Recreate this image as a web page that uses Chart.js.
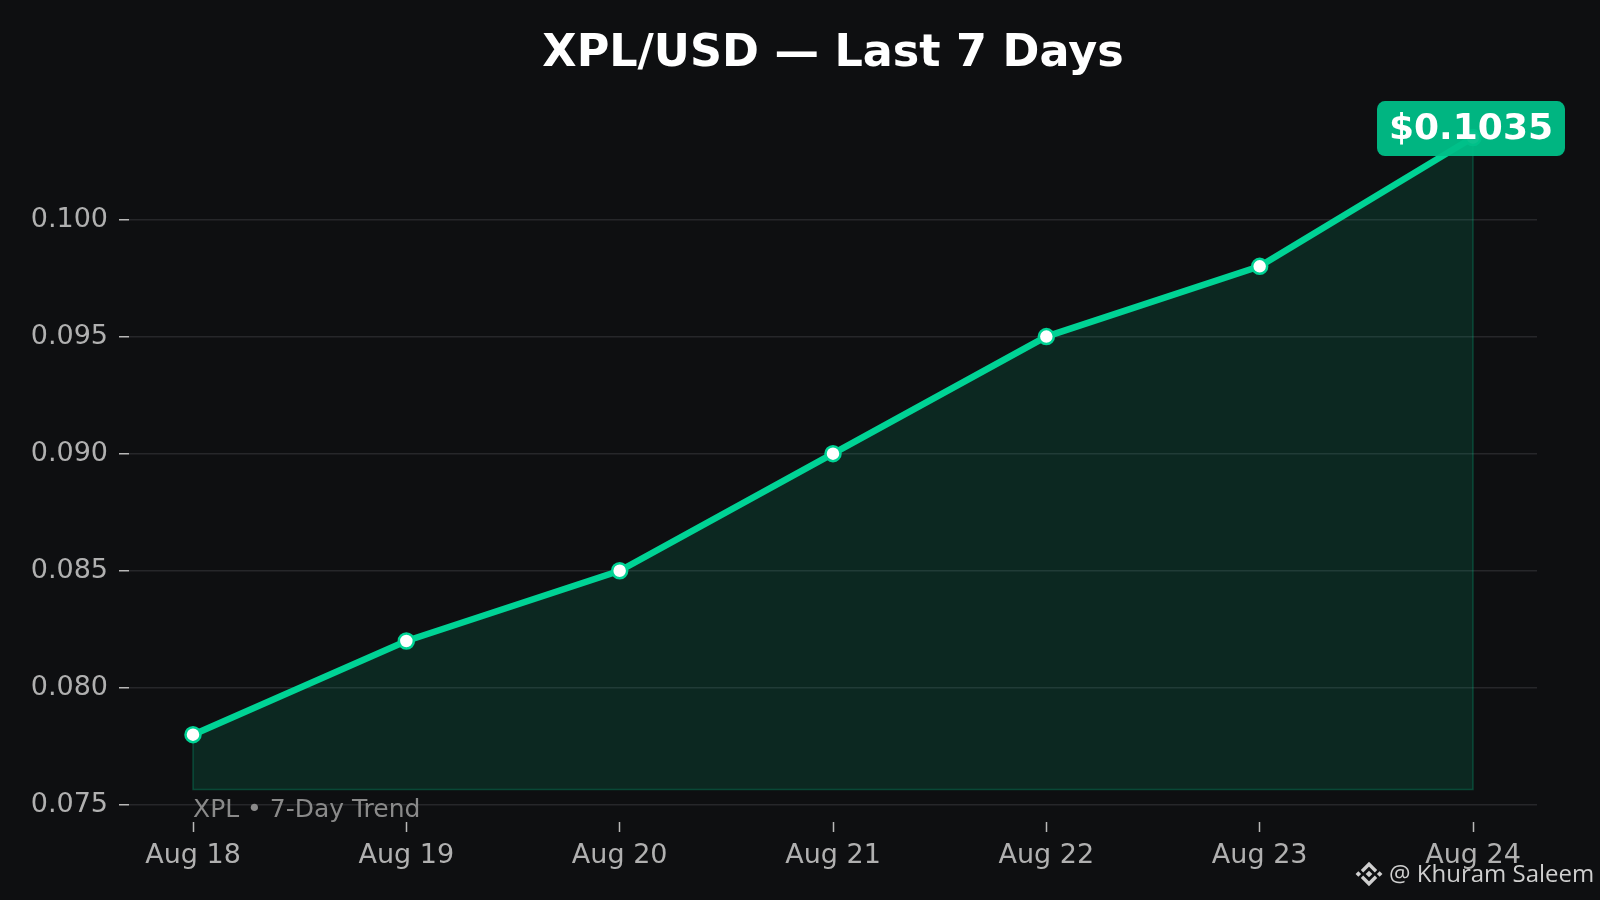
<!DOCTYPE html>
<html>
<head>
<meta charset="utf-8">
<script src="https://cdn.jsdelivr.net/npm/chart.js@4.4.1/dist/chart.umd.min.js"></script>
<style>
  html, body { margin: 0; padding: 0; background: #0e0f11; }
  #wrap { width: 1600px; height: 900px; }
</style>
</head>
<body>
<div id="wrap"><canvas id="priceChart" width="1600" height="900"></canvas></div>
<script>
const days = ['Aug 18', 'Aug 19', 'Aug 20', 'Aug 21', 'Aug 22', 'Aug 23', 'Aug 24'];
const prices = [0.078, 0.082, 0.085, 0.090, 0.095, 0.098, 0.1035];
const yTicks = [0.075, 0.080, 0.085, 0.090, 0.095, 0.100];
const fillBase = 0.07566;
const yMin = 0.07427;
const yMax = 0.10489;

const titleText = 'XPL/USD \u2014 Last 7 Days';
const watermarkText = 'XPL \u2022 7-Day Trend';
const creditText = '@ Khuram Saleem';

const GREEN = '#00d395';
const FONT = '"DejaVu Sans", sans-serif';

document.addEventListener("DOMContentLoaded", () => {

    const points = prices.map((v, i) => ({ x: i, y: v }));
    const last = prices.length - 1;
    // outline of the shaded area (left edge, bottom, right edge)
    const edge = [
        { x: 0, y: prices[0] },
        { x: 0, y: fillBase },
        { x: last, y: fillBase },
        { x: last, y: prices[last] }
    ];

    const extras = {
        id: 'extras',
        afterDatasetsDraw(chart) {
            const ctx = chart.ctx;
            const area = chart.chartArea;
            const xs = chart.scales.x, ys = chart.scales.y;
            ctx.save();

            // title
            ctx.fillStyle = '#ffffff';
            ctx.font = 'bold 44.5px ' + FONT;
            ctx.textAlign = 'center';
            ctx.textBaseline = 'alphabetic';
            ctx.fillText(titleText, (area.left + area.right) / 2, 66);

            // watermark
            ctx.fillStyle = '#8a8a8a';
            ctx.font = '25px ' + FONT;
            ctx.textAlign = 'left';
            ctx.fillText(watermarkText, xs.getPixelForValue(0), area.bottom - 5);

            // last price badge
            const px = xs.getPixelForValue(last);
            const py = ys.getPixelForValue(prices[last]);
            const label = '$' + prices[last].toFixed(4);
            ctx.font = 'bold 36px ' + FONT;
            const w = ctx.measureText(label).width + 24;
            const h = 55;
            const bx = px - w / 2 - 2, by = py - 9 - h / 2;
            ctx.globalAlpha = 0.95;
            ctx.fillStyle = '#00bf88';
            ctx.beginPath();
            ctx.roundRect(bx, by, w, h, 8);
            ctx.fill();
            ctx.globalAlpha = 1;
            ctx.fillStyle = '#ffffff';
            ctx.textAlign = 'center';
            ctx.textBaseline = 'middle';
            ctx.fillText(label, bx + w / 2, by + h / 2 + 1);

            // credit + logo
            ctx.fillStyle = '#cfcfcf';
            ctx.font = '24px "Open Sans", sans-serif';
            ctx.textAlign = 'left';
            ctx.textBaseline = 'alphabetic';
            ctx.fillText(creditText, 1389, 882);

            const cx = 1369, cy = 874, s = 28;
            const diamond = (x, y, r) => {
                ctx.beginPath();
                ctx.moveTo(x, y - r); ctx.lineTo(x + r, y);
                ctx.lineTo(x, y + r); ctx.lineTo(x - r, y);
                ctx.closePath(); ctx.fill();
            };
            diamond(cx, cy, s * 0.12);
            diamond(cx - s * 0.38, cy, s * 0.1);
            diamond(cx + s * 0.38, cy, s * 0.1);
            ctx.strokeStyle = '#cfcfcf';
            ctx.lineWidth = s * 0.12;
            ctx.beginPath();
            ctx.moveTo(cx - s * 0.25, cy - s * 0.1);
            ctx.lineTo(cx, cy - s * 0.35);
            ctx.lineTo(cx + s * 0.25, cy - s * 0.1);
            ctx.moveTo(cx - s * 0.25, cy + s * 0.1);
            ctx.lineTo(cx, cy + s * 0.35);
            ctx.lineTo(cx + s * 0.25, cy + s * 0.1);
            ctx.stroke();

            ctx.restore();
        }
    };

    const canvas = document.getElementById('priceChart');
    new Chart(canvas.getContext('2d'), {
        type: 'line',
        data: {
            datasets: [{
                label: 'XPL',
                data: points,
                borderColor: GREEN,
                borderWidth: 6.5,
                backgroundColor: 'rgba(0, 211, 149, 0.13)',
                fill: { value: fillBase },
                pointRadius: 7.5,
                pointBorderWidth: 2.5,
                pointBackgroundColor: '#ffffff',
                pointBorderColor: GREEN,
                tension: 0,
                order: 1
            }, {
                label: 'edge',
                data: edge,
                borderColor: 'rgba(0, 211, 149, 0.25)',
                borderWidth: 1.5,
                pointRadius: 0,
                fill: false,
                tension: 0,
                order: 2
            }]
        },
        options: {
            responsive: false,
            animation: false,
            layout: { padding: { left: 0, right: 63, top: 105, bottom: 0 } },
            plugins: {
                legend: { display: false },
                tooltip: { enabled: false },
                title: { display: false }
            },
            scales: {
                x: {
                    type: 'linear',
                    min: -0.3,
                    max: last + 0.3,
                    afterBuildTicks(scale) {
                        scale.ticks = days.map((d, i) => ({ value: i }));
                    },
                    afterFit(scale) { scale.height = 78; },
                    border: { display: false },
                    grid: {
                        drawOnChartArea: false,
                        drawTicks: true,
                        tickLength: 10,
                        tickColor: '#b8b8b8',
                        tickWidth: 1.5
                    },
                    ticks: {
                        color: '#b0b0b0',
                        font: { family: FONT, size: 27 },
                        padding: 8,
                        maxRotation: 0,
                        autoSkip: false,
                        callback: (v) => days[v]
                    }
                },
                y: {
                    min: yMin,
                    max: yMax,
                    afterBuildTicks(scale) {
                        scale.ticks = yTicks.map(v => ({ value: v }));
                    },
                    afterFit(scale) { scale.width = 129; },
                    border: { display: false },
                    grid: {
                        color: '#26272a',
                        lineWidth: 1.5,
                        drawTicks: true,
                        tickLength: 10,
                        tickColor: '#b8b8b8',
                        tickWidth: 1.5
                    },
                    ticks: {
                        color: '#b0b0b0',
                        font: { family: FONT, size: 27 },
                        padding: 11,
                        callback: (v) => v.toFixed(3)
                    }
                }
            }
        },
        plugins: [extras]
    });

});
</script>
</body>
</html>
